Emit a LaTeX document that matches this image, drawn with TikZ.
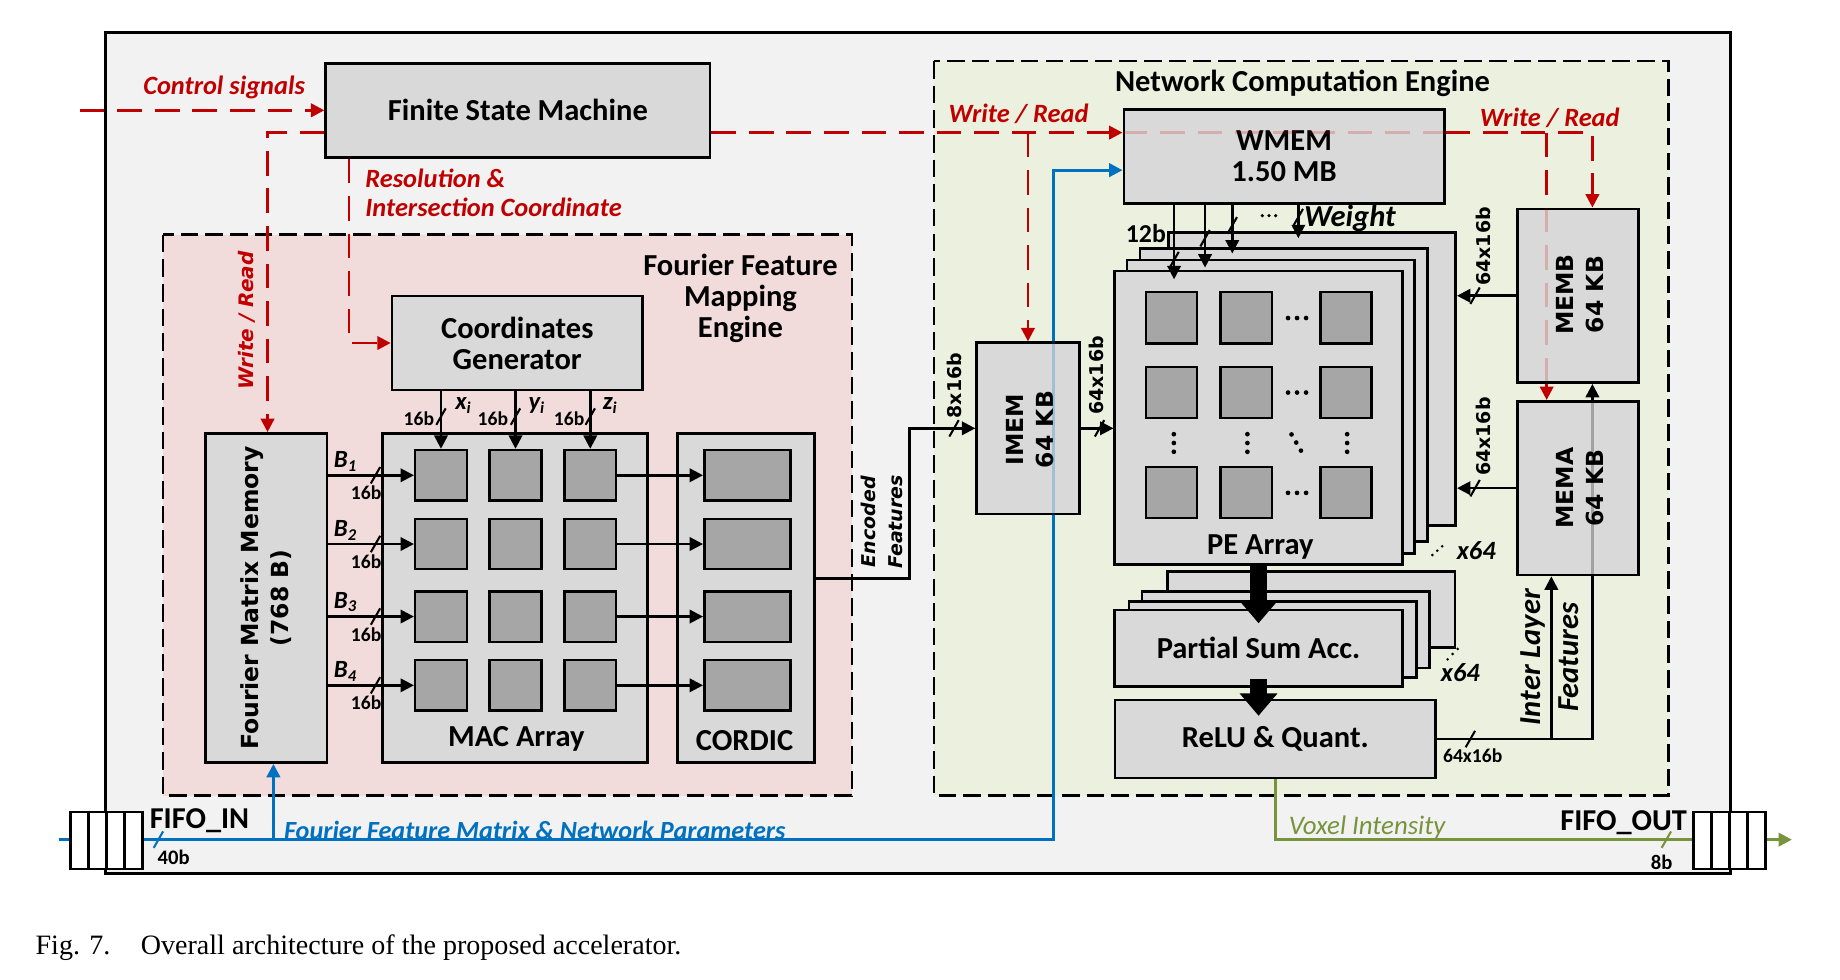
\documentclass[tikz,border=0pt]{standalone}
\usepackage{fontspec}
\setmainfont{Carlito}
\newfontfamily\verd{DejaVu Sans}
\newfontfamily\capserif{Liberation Serif}
\usetikzlibrary{arrows.meta,positioning}
\definecolor{outerbg}{HTML}{F2F2F2}
\definecolor{boxgray}{HTML}{D9D9D9}
\definecolor{cellgray}{HTML}{A6A6A6}
\definecolor{ffmbg}{HTML}{F2DCDB}
\definecolor{ncebg}{HTML}{EBF1DE}
\definecolor{ctlred}{HTML}{C00000}
\definecolor{parblue}{HTML}{0070C0}
\definecolor{voxgreen}{HTML}{77933C}
\newcommand{\blkfont}{\fontsize{14.8}{15}\selectfont\bfseries}
\newcommand{\memfont}{\verd\fontsize{11.4}{14.8}\selectfont\bfseries}
\newcommand{\tagfont}{\fontsize{12.8}{14}\selectfont\bfseries\itshape}
\newcommand{\symfont}{\fontsize{12}{13}\selectfont\bfseries\itshape}
\newcommand{\bitfont}{\fontsize{9.5}{11}\selectfont\bfseries}
\newcommand{\vbitfont}{\verd\fontsize{9.2}{11}\selectfont\bfseries}
\newcommand{\bus}[2][black]{\draw[#1, line width=1pt] #2 ++(-4,7) -- ++(8,-14);}
\newcommand{\coldots}[2]{\fill (#1,#2) circle (0.4mm) (#1,#2+7.5) circle (0.4mm) (#1,#2+15) circle (0.4mm);}
\newcommand{\rowdots}[1]{\fill (1097.6,#1) circle (0.4mm) (1105.3,#1) circle (0.4mm) (1113,#1) circle (0.4mm);}

\begin{document}
\begin{tikzpicture}[x=0.2mm, y=-0.2mm, >={Triangle[length=6.5pt,width=6.5pt]}, node distance=3.08mm,
  blk/.style={draw, fill=boxgray, line width=1.3pt, inner sep=0pt, align=center, font=\blkfont},
  cell/.style={draw, fill=cellgray, line width=1.2pt, inner sep=0pt, minimum width=8.8mm, minimum height=8.6mm},
  fcell/.style={draw, fill=white, line width=1.3pt, inner sep=0pt, minimum width=3.08mm, minimum height=9.7mm},
  eng/.style={draw, line width=1.3pt, dash pattern=on 3mm off 1.2mm},
  ctl/.style={ctlred, line width=1.3pt, dash pattern=on 4.2mm off 2.2mm},
  wire/.style={line width=1.2pt},
  par/.style={parblue, line width=1.4pt},
  vox/.style={voxgreen, line width=1.4pt},
  bigarr/.style={line width=3mm, -{Triangle[length=3.8mm,width=6.2mm]}},
  lbl/.style={inner sep=0pt, align=center}]
\useasboundingbox (0,0) rectangle (1568,835);
%
\draw[fill=outerbg, line width=1.5pt] (90,28) rectangle (1475,744);
\draw[eng, fill=ffmbg] (139,200) rectangle (726,678);
\draw[eng, fill=ncebg] (796,52) rectangle (1422,678);
\node (FFMt) [lbl, font=\blkfont] at (631,254.5) {Fourier Feature\\Mapping\\Engine};
\node (NCEt) [lbl, font=\blkfont] at (1110,71) {Network Computation Engine};
%
% fourier feature mapping engine
\node (FSM) [blk, minimum width=65.5mm, minimum height=16mm] at (441.3,94) {Finite State Machine};
\node (CG) [blk, minimum width=42.7mm, minimum height=16mm] at (440.8,292.3) {Coordinates\\Generator};
\node (FMM) [blk, minimum width=20.7mm, minimum height=56.1mm] at (226.8,509.6) {};
\node (FMMt) [lbl, rotate=90, font=\memfont] at (FMM) {Fourier Matrix Memory\\(768 B)};
\node (MAC) [blk, minimum width=45.1mm, minimum height=56.1mm] at (438.8,509.6) {};
\node (MACt) [lbl, font=\blkfont] at (440,630) {MAC Array};
\node (COR) [blk, minimum width=23.3mm, minimum height=56.1mm] at (635.8,509.6) {};
\node (CORt) [lbl, font=\blkfont] at (634.5,631) {CORDIC};
%
\node (M11) [cell] at (375.8,405) {};
\node (M12) [cell] at (439.3,405) {};
\node (M13) [cell] at (503,405) {};
\node (M21) [cell] at (375.8,463.6) {};
\node (M22) [cell] at (439.3,463.6) {};
\node (M23) [cell] at (503,463.6) {};
\node (M31) [cell] at (375.8,525.4) {};
\node (M32) [cell] at (439.3,525.4) {};
\node (M33) [cell] at (503,525.4) {};
\node (M41) [cell] at (375.8,584) {};
\node (M42) [cell] at (439.3,584) {};
\node (M43) [cell] at (503,584) {};
\node (C1) [cell, minimum width=14.7mm] at (636.9,405) {};
\node (C2) [cell, minimum width=14.7mm] at (636.9,463.6) {};
\node (C3) [cell, minimum width=14.7mm] at (636.9,525.4) {};
\node (C4) [cell, minimum width=14.7mm] at (636.9,584) {};
%
% network computation engine
\node (WMEM) [blk, minimum width=54.6mm, minimum height=16mm] at (1094.2,133.2) {WMEM\\1.50 MB};
\node (IMEM) [blk, minimum width=17.5mm, minimum height=29.2mm] at (876,365) {};
\node (IMEMt) [lbl, rotate=90, font=\memfont] at (878,366) {IMEM\\64 KB};
\node (MEMB) [blk, minimum width=20.6mm, minimum height=29.6mm] at (1344.5,252) {};
\node (MEMBt) [lbl, rotate=90, font=\memfont] at (1346.5,251) {MEMB\\64 KB};
\node (MEMA) [blk, minimum width=20.6mm, minimum height=29.6mm] at (1344.5,416) {};
\node (MEMAt) [lbl, rotate=90, font=\memfont] at (1346.5,416) {MEMA\\64 KB};
%
\node (PE4) [blk, minimum width=49mm, minimum height=50mm] at (1118,323) {};
\node (PE3) [blk, minimum width=49mm, minimum height=50mm] at (1094,336.5) {};
\node (PE2) [blk, minimum width=49mm, minimum height=50mm] at (1083,346.5) {};
\node (PE1) [blk, minimum width=49mm, minimum height=50mm] at (1072.5,356) {};
\node (PEt) [lbl, font=\blkfont] at (1074,466) {PE Array};
\node (P11) [cell, minimum width=8.7mm, minimum height=8.7mm] at (998.3,270.8) {};
\node (P12) [cell, minimum width=8.7mm, minimum height=8.7mm] at (1062,270.8) {};
\node (P13) [cell, minimum width=8.7mm, minimum height=8.7mm] at (1147,270.8) {};
\node (P21) [cell, minimum width=8.7mm, minimum height=8.7mm] at (998.3,334.5) {};
\node (P22) [cell, minimum width=8.7mm, minimum height=8.7mm] at (1062,334.5) {};
\node (P23) [cell, minimum width=8.7mm, minimum height=8.7mm] at (1147,334.5) {};
\node (P31) [cell, minimum width=8.7mm, minimum height=8.7mm] at (998.3,419.5) {};
\node (P32) [cell, minimum width=8.7mm, minimum height=8.7mm] at (1062,419.5) {};
\node (P33) [cell, minimum width=8.7mm, minimum height=8.7mm] at (1147,419.5) {};
%
\node (PS4) [blk, minimum width=49mm, minimum height=13mm] at (1117.5,519.5) {};
\node (PS3) [blk, minimum width=49mm, minimum height=13mm] at (1095.8,536.8) {};
\node (PS2) [blk, minimum width=49mm, minimum height=13mm] at (1084.6,544.8) {};
\node (PS1) [blk, minimum width=49mm, minimum height=13mm] at (1072.5,552.3) {Partial Sum Acc.};
\node (ReLU) [blk, minimum width=54.7mm, minimum height=13.3mm] at (1086.8,629.8) {ReLU \& Quant.};
%
% control signals
\coordinate (ctlin) at (68,94);
\coordinate (wrL) at (228,113);
\coordinate (resC) at (297.5,292.3);
\coordinate (wrI) at (876,113);
\coordinate (wrA) at (1318,113);
\coordinate (wrR) at (1357,113);
\draw[ctl,->] (ctlin) -- (FSM.west);
\draw[ctl,->] (FSM.west |- wrL) -- (wrL) -- (wrL |- FMM.north);
\draw[ctl,->] (FSM.south -| resC) -- (resC) -- (CG.west);
\draw[ctl,->] (FSM.east |- wrR) -- (WMEM.west |- wrR);
\draw[ctl, opacity=0.2] (WMEM.west |- wrR) -- (WMEM.east |- wrR);
\draw[ctl,->] (WMEM.east |- wrR) -- (wrR) -- (wrR |- MEMB.north);
\draw[ctl,->] (wrI) -- (IMEM.north);
\draw[ctl] (wrA) -- (wrA |- MEMB.north);
\draw[ctl, opacity=0.2] (wrA |- MEMB.north) -- (wrA |- MEMB.south);
\draw[ctl,->] (wrA |- MEMB.south) -- (wrA |- MEMA.north);
\node (ctlt) [lbl, ctlred, font=\tagfont] at (191,74.5) {Control signals};
\node (rest) [lbl, ctlred, font=\tagfont, align=left, anchor=west] at (311,164.4) {Resolution \&\\Intersection Coordinate};
\node (wrt1) [lbl, ctlred, rotate=90, font=\verd\fontsize{9.7}{11}\selectfont\bfseries\itshape] at (210,273) {Write / Read};
\node (wrt2) [lbl, ctlred, font=\tagfont] at (868,97) {Write / Read};
\node (wrt3) [lbl, ctlred, font=\tagfont] at (1320.6,100) {Write / Read};
%
% parameters
\coordinate (parin) at (50,715.5);
\coordinate (parF) at (233,715.5);
\coordinate (parC) at (898,715.5);
\coordinate (parT) at (898,145);
\draw[par] (parin) -- (parC) -- (parC |- IMEM.south);
\draw[par, opacity=0.25] (parC |- IMEM.south) -- (parC |- IMEM.north);
\draw[par,->] (parC |- IMEM.north) -- (parT) -- (WMEM.west |- parT);
\draw[par,->] (parF) -- (parF |- FMM.south);
\bus[parblue]{(135,715.5)}
\node (part) [lbl, parblue, font=\fontsize{12.7}{14}\selectfont\bfseries\itshape] at (455.7,707.7) {Fourier Feature Matrix \& Network Parameters};
%
% fourier matrix to MAC
\draw[wire,->] (FMM.east |- M11) -- (M11.west);
\draw[wire,->] (FMM.east |- M21) -- (M21.west);
\draw[wire,->] (FMM.east |- M31) -- (M31.west);
\draw[wire,->] (FMM.east |- M41) -- (M41.west);
\bus{(320,405)} \bus{(320,463.6)} \bus{(320,525.4)} \bus{(320,584)}
\node (B1t) [lbl, font=\symfont] at (294.5,393) {B\textsubscript{1}};
\node (B2t) [lbl, font=\symfont] at (294.5,452) {B\textsubscript{2}};
\node (B3t) [lbl, font=\symfont] at (294.5,513) {B\textsubscript{3}};
\node (B4t) [lbl, font=\symfont] at (294.5,572) {B\textsubscript{4}};
\node (B1w) [lbl, font=\bitfont] at (312,420) {16b};
\node (B2w) [lbl, font=\bitfont] at (312,479) {16b};
\node (B3w) [lbl, font=\bitfont] at (312,540.5) {16b};
\node (B4w) [lbl, font=\bitfont] at (312,599) {16b};
%
% coordinates to MAC
\draw[wire,->] (CG.south -| M11) -- (M11.north);
\draw[wire,->] (CG.south -| M12) -- (M12.north);
\draw[wire,->] (CG.south -| M13) -- (M13.north);
\bus{(375.8,355)} \bus{(439.3,355)} \bus{(503,355)}
\node (xw) [lbl, font=\bitfont] at (357,356.7) {16b};
\node (yw) [lbl, font=\bitfont] at (420,356.7) {16b};
\node (zw) [lbl, font=\bitfont] at (485,356.7) {16b};
\node (xt) [lbl, font=\symfont] at (395,345.7) {x\textsubscript{i}};
\node (yt) [lbl, font=\symfont] at (457.5,345.7) {y\textsubscript{i}};
\node (zt) [lbl, font=\symfont] at (520,345.7) {z\textsubscript{i}};
%
% MAC to CORDIC
\draw[wire,->] (M13.east) -- (C1.west);
\draw[wire,->] (M23.east) -- (C2.west);
\draw[wire,->] (M33.east) -- (C3.west);
\draw[wire,->] (M43.east) -- (C4.west);
%
% encoded features
\coordinate (encC) at (775,493);
\draw[wire,->] (COR.east |- encC) -- (encC) -- (encC |- IMEM.west) -- (IMEM.west);
\bus{(813,365)}
\node (enct) [lbl, rotate=90, font=\verd\fontsize{9.2}{12.9}\selectfont\bfseries\itshape] at (751.4,444.5) {Encoded\\Features};
\node (iw) [lbl, rotate=90, font=\vbitfont] at (813,328.6) {8x16b};
%
% memories to PE array
\draw[wire,->] (IMEM.east) -- (PE1.west |- IMEM.east);
\bus{(937,365)}
\node (pw) [lbl, rotate=90, font=\vbitfont] at (934.5,320) {64x16b};
\draw[wire,->] (MEMB.west) -- (PE4.east |- MEMB.west);
\draw[wire,->] (MEMA.west) -- (PE4.east |- MEMA.west);
\bus{(1257,252)} \bus{(1257,416)}
\node (bw) [lbl, rotate=90, font=\vbitfont] at (1264,210) {64x16b};
\node (aw) [lbl, rotate=90, font=\vbitfont] at (1264,372) {64x16b};
%
% weights
\coordinate (wa) at (1000.5,238);
\coordinate (wb) at (1026.9,228);
\coordinate (wc) at (1050.1,216);
\coordinate (wd) at (1106.4,203);
\draw[wire,->] (WMEM.south -| wa) -- (wa);
\draw[wire,->] (WMEM.south -| wb) -- (wb);
\draw[wire,->] (WMEM.south -| wc) -- (wc);
\draw[wire,->] (WMEM.south -| wd) -- (wd);
\bus{(1000.5,221.6)} \bus{(1026.9,203)} \bus{(1050.1,192)} \bus{(1106.4,185)}
\fill (1075.7,183.8) circle (0.3mm) (1081.4,183.8) circle (0.3mm) (1087.1,183.8) circle (0.3mm);
\node (w12) [lbl, font=\fontsize{12.5}{14}\selectfont\bfseries] at (976.5,198.8) {12b};
\node (wgt) [lbl, font=\blkfont\itshape, anchor=west] at (1111,186) {Weight};
%
% PE array dots
\rowdots{271} \rowdots{334.5} \rowdots{420}
\coldots{1000.3}{370} \coldots{1063}{370} \coldots{1148}{370}
\fill (1100.6,370.2) circle (0.4mm) (1104.6,377.1) circle (0.4mm) (1108.6,384) circle (0.4mm);
\fill (1220.6,473) circle (0.25mm) (1224.8,469.3) circle (0.25mm) (1229,465.5) circle (0.25mm);
\fill (1233.6,561.9) circle (0.25mm) (1237.9,557.3) circle (0.25mm) (1242.2,553) circle (0.25mm);
\node (x64a) [lbl, font=\tagfont] at (1258,469) {x64};
\node (x64b) [lbl, font=\tagfont] at (1244.5,573) {x64};
%
\draw[bigarr] (PE1.south) -- ++(0,49);
\draw[bigarr] (PS1.south) ++(0,-7) -- ++(0,31);
%
% inter layer features
\coordinate (ilA) at (1322,629.8);
\coordinate (ilB) at (1357,629.8);
\draw[wire] (ReLU.east) -- (ilB) -- (ilB |- MEMA.south);
\draw[wire, opacity=0.25] (ilB |- MEMA.south) -- (ilB |- MEMA.north);
\draw[wire,->] (ilB |- MEMA.north) -- (ilB |- MEMB.south);
\draw[wire,->] (ilA) -- (ilA |- MEMA.south);
\bus{(1253,629.8)}
\node (rw) [lbl, font=\bitfont] at (1255,644) {64x16b};
\node (ilt) [lbl, rotate=90, font=\fontsize{14.8}{18.5}\selectfont\bfseries\itshape] at (1320.3,560) {Inter Layer\\Features};
%
% voxel output
\coordinate (voxout) at (1527,715.5);
\draw[vox,->] (ReLU.south) -- (ReLU.south |- voxout) -- (voxout);
\bus[voxgreen]{(1420,715.5)}
\node (voxt) [lbl, voxgreen, font=\fontsize{13}{14}\selectfont\itshape] at (1165,705) {Voxel Intensity};
%
% fifos
\node (FI1) [fcell] at (67.7,716.3) {};
\node (FI2) [fcell, right of=FI1] {};
\node (FI3) [fcell, right of=FI2] {};
\node (FI4) [fcell, right of=FI3] {};
\node (FO1) [fcell] at (1450.7,716.3) {};
\node (FO2) [fcell, right of=FO1] {};
\node (FO3) [fcell, right of=FO2] {};
\node (FO4) [fcell, right of=FO3] {};
\node (fint) [lbl, font=\fontsize{14.7}{17}\selectfont\bfseries] at (170,699) {FIFO\_IN};
\node (foutt) [lbl, font=\fontsize{14.7}{17}\selectfont\bfseries] at (1383.6,701) {FIFO\_OUT};
\node (inw) [lbl, font=\fontsize{10}{11}\selectfont\bfseries] at (148,731) {40b};
\node (outw) [lbl, font=\fontsize{10}{11}\selectfont\bfseries] at (1416,735) {8b};
%
\node (cap) [anchor=base west, inner sep=0pt, font=\capserif\fontsize{13.6}{15}\selectfont] at (30,813.5) {Fig. 7.\hspace{5.2mm}Overall architecture of the proposed accelerator.};
\end{tikzpicture}
\end{document}
